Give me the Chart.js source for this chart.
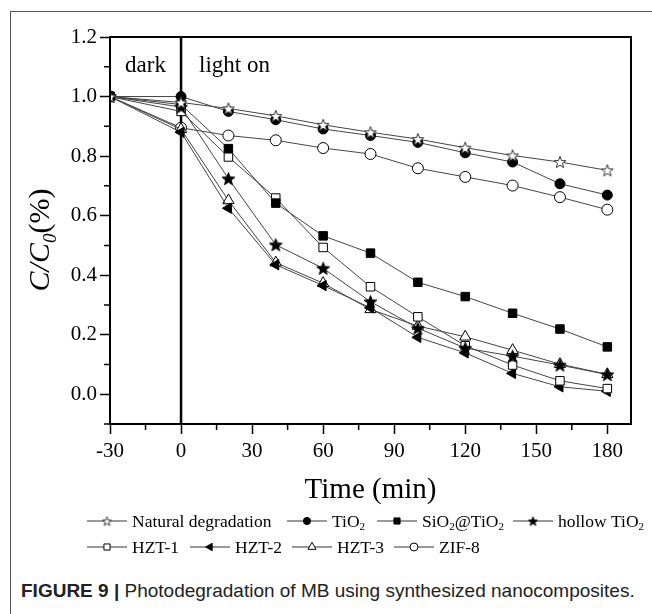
<!DOCTYPE html>
<html>
<head>
<meta charset="utf-8">
<script src="https://cdn.jsdelivr.net/npm/chart.js@4.4.1/dist/chart.umd.min.js"></script>
<style>
  html, body { margin: 0; padding: 0; background: #fff; overflow: hidden; }
  body { width: 652px; height: 614px; position: relative; }
  #frame { position: absolute; left: 10px; top: 11px; width: 700px; height: 700px; border: 1px solid #555; }
  #wrap { position: absolute; left: 0; top: 0; width: 652px; height: 570px; }
  #caption { position: absolute; left: 21px; top: 580px; font-family: "Liberation Sans", Arial, sans-serif;
             font-size: 19px; color: #222; white-space: nowrap; }
</style>
</head>
<body>
<div id="frame"></div>
<div id="wrap"><canvas id="chart" width="652" height="570"></canvas></div>
<div id="caption"><b>FIGURE 9 |</b> Photodegradation of MB using synthesized nanocomposites.</div>
<script>
// time axis (min) and C/C0 values
var times = [-30, 0, 20, 40, 60, 80, 100, 120, 140, 160, 180];
var naturalDeg = [1.0, 0.98, 0.96, 0.935, 0.905, 0.88, 0.857, 0.828, 0.802, 0.78, 0.752];
var tio2       = [1.0, 1.0, 0.95, 0.922, 0.891, 0.869, 0.846, 0.811, 0.78, 0.707, 0.669];
var sio2Tio2   = [1.0, 0.973, 0.825, 0.642, 0.532, 0.474, 0.376, 0.328, 0.272, 0.219, 0.159];
var hollowTio2 = [1.0, 0.965, 0.724, 0.502, 0.423, 0.311, 0.222, 0.155, 0.128, 0.098, 0.066];
var hzt1       = [1.0, 0.95, 0.797, 0.659, 0.493, 0.361, 0.26, 0.163, 0.098, 0.045, 0.019];
var hzt2       = [1.0, 0.88, 0.625, 0.435, 0.365, 0.29, 0.191, 0.139, 0.07, 0.025, 0.01];
var hzt3       = [1.0, 0.89, 0.651, 0.442, 0.373, 0.285, 0.229, 0.193, 0.148, 0.101, 0.067];
var zif8       = [1.0, 0.895, 0.869, 0.853, 0.827, 0.807, 0.759, 0.73, 0.701, 0.662, 0.62];

var seriesNames = ['Natural degradation', 'TiO{2}', 'SiO{2}@TiO{2}', 'hollow TiO{2}',
                   'HZT-1', 'HZT-2', 'HZT-3', 'ZIF-8'];

var xTicks = [-30, 0, 30, 60, 90, 120, 150, 180];
var xMinor = [-15, 15, 45, 75, 105, 135, 165];
var yTicks = [0.0, 0.2, 0.4, 0.6, 0.8, 1.0, 1.2];
var yMinor = [-0.1, 0.1, 0.3, 0.5, 0.7, 0.9, 1.1];

var SERIF = '"Liberation Serif", "Times New Roman", serif';

function starImage(fill, stroke, size) {
  var c = document.createElement('canvas');
  c.width = c.height = size;
  var g = c.getContext('2d');
  var cx = size / 2, cy = size / 2 + 0.6, R = size / 2 - 0.8, r = R * 0.42;
  g.beginPath();
  for (var i = 0; i < 10; i++) {
    var ang = -Math.PI / 2 + i * Math.PI / 5;
    var rad = i % 2 ? r : R;
    g.lineTo(cx + rad * Math.cos(ang), cy + rad * Math.sin(ang));
  }
  g.closePath();
  g.fillStyle = fill; g.fill();
  g.strokeStyle = stroke; g.lineWidth = 1; g.stroke();
  return c;
}
var openStar = starImage('#fff', '#333', 14);
var fullStar = starImage('#000', '#000', 15);
var openStarSmall = starImage('#fff', '#333', 11);
var fullStarSmall = starImage('#000', '#000', 11);

function pts(vals) {
  return times.map(function (t, i) { return { x: t, y: vals[i] }; });
}
function plainName(s) { return s.replace(/[{}]/g, ''); }

// marker definitions (style, fill, size)
var markers = [
  { style: openStar, fill: '#fff', r: 6, legendImg: openStarSmall },
  { style: 'circle', fill: '#000', r: 5 },
  { style: 'rect', fill: '#000', r: 6 },
  { style: fullStar, fill: '#000', r: 7, legendImg: fullStarSmall },
  { style: 'rect', fill: '#fff', r: 6 },
  { style: 'triangle', fill: '#000', r: 6, rot: -90 },
  { style: 'triangle', fill: '#fff', r: 6.5 },
  { style: 'circle', fill: '#fff', r: 5.5 }
];
var seriesData = [naturalDeg, tio2, sio2Tio2, hollowTio2, hzt1, hzt2, hzt3, zif8];

var datasets = seriesData.map(function (vals, i) {
  var m = markers[i];
  return {
    label: plainName(seriesNames[i]),
    data: pts(vals),
    borderColor: '#444',
    borderWidth: 1,
    pointStyle: m.style,
    pointRadius: m.r,
    pointRotation: m.rot || 0,
    pointBackgroundColor: m.fill,
    pointBorderColor: '#000',
    pointBorderWidth: 1,
    tension: 0
  };
});

function drawRich(ctx, text, x, y, size, italic) {
  // text with {sub} parts, returns end x
  var parts = text.split(/(\{[^}]*\})/);
  parts.forEach(function (p) {
    if (!p) return;
    if (p.charAt(0) === '{') {
      ctx.font = (italic ? 'italic ' : '') + Math.round(size * 0.62) + 'px ' + SERIF;
      ctx.fillText(p.slice(1, -1), x, y + size * 0.28);
      x += ctx.measureText(p.slice(1, -1)).width;
    } else {
      ctx.font = (italic ? 'italic ' : '') + size + 'px ' + SERIF;
      ctx.fillText(p, x, y);
      x += ctx.measureText(p).width;
    }
  });
  return x;
}

function drawMarker(ctx, m, x, y, scale) {
  ctx.save();
  ctx.fillStyle = m.fill; ctx.strokeStyle = '#000'; ctx.lineWidth = 1;
  var r = m.r * scale;
  if (m.legendImg) {
    ctx.drawImage(m.legendImg, x - m.legendImg.width / 2, y - m.legendImg.height / 2);
  } else if (m.style === 'circle') {
    ctx.beginPath(); ctx.arc(x, y, r, 0, Math.PI * 2); ctx.fill(); ctx.stroke();
  } else if (m.style === 'rect') {
    var s = r * Math.SQRT1_2;
    ctx.beginPath(); ctx.rect(x - s, y - s, 2 * s, 2 * s); ctx.fill(); ctx.stroke();
  } else if (m.style === 'triangle') {
    var rad = (m.rot || 0) * Math.PI / 180;
    ctx.beginPath();
    for (var k = 0; k < 3; k++) {
      var a = rad + k * 2 * Math.PI / 3;
      ctx.lineTo(x + Math.sin(a) * r, y - Math.cos(a) * r);
    }
    ctx.closePath(); ctx.fill(); ctx.stroke();
  }
  ctx.restore();
}

// legend layout: [row, start x of the line]
var legendPos = [[0, 87], [0, 287], [0, 377], [0, 513], [1, 87], [1, 190], [1, 292], [1, 394]];
var legendRowY = [521, 547];

var decor = {
  id: 'decor',
  beforeDatasetsDraw: function (chart) {
    var ctx = chart.ctx, a = chart.chartArea, x = chart.scales.x;
    var px = x.getPixelForValue(0);
    ctx.save();
    ctx.strokeStyle = '#000'; ctx.lineWidth = 2.5;
    ctx.beginPath(); ctx.moveTo(px, a.top); ctx.lineTo(px, a.bottom); ctx.stroke();
    ctx.restore();
  },
  afterDraw: function (chart) {
    var ctx = chart.ctx, a = chart.chartArea, xs = chart.scales.x, ys = chart.scales.y;
    ctx.save();
    // frame
    ctx.strokeStyle = '#000'; ctx.lineWidth = 2;
    ctx.strokeRect(a.left, a.top, a.right - a.left, a.bottom - a.top);
    // minor ticks
    ctx.lineWidth = 1.5;
    ctx.beginPath();
    xMinor.forEach(function (v) {
      var p = xs.getPixelForValue(v);
      ctx.moveTo(p, a.bottom); ctx.lineTo(p, a.bottom + 6);
    });
    yMinor.forEach(function (v) {
      var p = ys.getPixelForValue(v);
      ctx.moveTo(a.left, p); ctx.lineTo(a.left - 6, p);
    });
    ctx.stroke();

    // dark / light on
    ctx.fillStyle = '#000';
    ctx.font = '23px ' + SERIF;
    ctx.textBaseline = 'alphabetic';
    ctx.textAlign = 'center';
    ctx.fillText('dark', xs.getPixelForValue(-15), a.top + 35);
    ctx.textAlign = 'left';
    ctx.fillText('light on', xs.getPixelForValue(0) + 18, a.top + 35);

    // y title  C/C0(%)
    ctx.save();
    ctx.translate(49, 240);
    ctx.rotate(-Math.PI / 2);
    var f = 30;
    ctx.font = 'italic ' + f + 'px ' + SERIF;
    var w1 = ctx.measureText('C/C').width;
    ctx.font = 'italic ' + Math.round(f * 0.62) + 'px ' + SERIF;
    var w2 = ctx.measureText('0').width;
    ctx.font = f + 'px ' + SERIF;
    var w3 = ctx.measureText('(%)').width;
    var sx = -(w1 + w2 + w3) / 2;
    ctx.font = 'italic ' + f + 'px ' + SERIF;
    ctx.fillText('C/C', sx, 0);
    ctx.font = 'italic ' + Math.round(f * 0.62) + 'px ' + SERIF;
    ctx.fillText('0', sx + w1, f * 0.22);
    ctx.font = f + 'px ' + SERIF;
    ctx.fillText('(%)', sx + w1 + w2, 0);
    ctx.restore();

    // legend
    ctx.textBaseline = 'middle';
    seriesNames.forEach(function (name, i) {
      var row = legendPos[i][0], lx = legendPos[i][1], ly = legendRowY[row];
      ctx.strokeStyle = '#333'; ctx.lineWidth = 1;
      ctx.beginPath(); ctx.moveTo(lx, ly); ctx.lineTo(lx + 40, ly); ctx.stroke();
      drawMarker(ctx, markers[i], lx + 20, ly, 0.72);
      ctx.fillStyle = '#000';
      drawRich(ctx, name, lx + 45, ly + 1, 17.5, false);
    });
    ctx.restore();
  }
};

new Chart(document.getElementById('chart').getContext('2d'), {
  type: 'line',
  data: { datasets: datasets },
  options: {
    responsive: false,
    animation: false,
    layout: { padding: { left: 0, right: 21, top: 37, bottom: 63 } },
    plugins: { legend: { display: false }, tooltip: { enabled: false } },
    scales: {
      x: {
        type: 'linear', min: -30, max: 190,
        afterBuildTicks: function (s) { s.ticks = xTicks.map(function (v) { return { value: v }; }); },
        afterFit: function (s) { s.height = 83; },
        grid: { drawOnChartArea: false, tickLength: 10, tickWidth: 1.5, tickColor: '#000' },
        border: { color: '#000', width: 2 },
        ticks: { color: '#000', font: { family: SERIF, size: 21 }, padding: 5, maxRotation: 0, autoSkip: false },
        title: { display: true, text: 'Time (min)', color: '#000',
                 font: { family: SERIF, size: 29, lineHeight: 1 }, padding: { top: 0, bottom: 2 } }
      },
      y: {
        min: -0.1, max: 1.2,
        afterBuildTicks: function (s) { s.ticks = yTicks.map(function (v) { return { value: v }; }); },
        afterFit: function (s) { s.width = 110; },
        grid: { drawOnChartArea: false, tickLength: 10, tickWidth: 1.5, tickColor: '#000' },
        border: { color: '#000', width: 2 },
        ticks: { color: '#000', font: { family: SERIF, size: 21 }, padding: 3,
                 callback: function (v) { return v.toFixed(1); } }
      }
    }
  },
  plugins: [decor]
});
</script>
</body>
</html>
